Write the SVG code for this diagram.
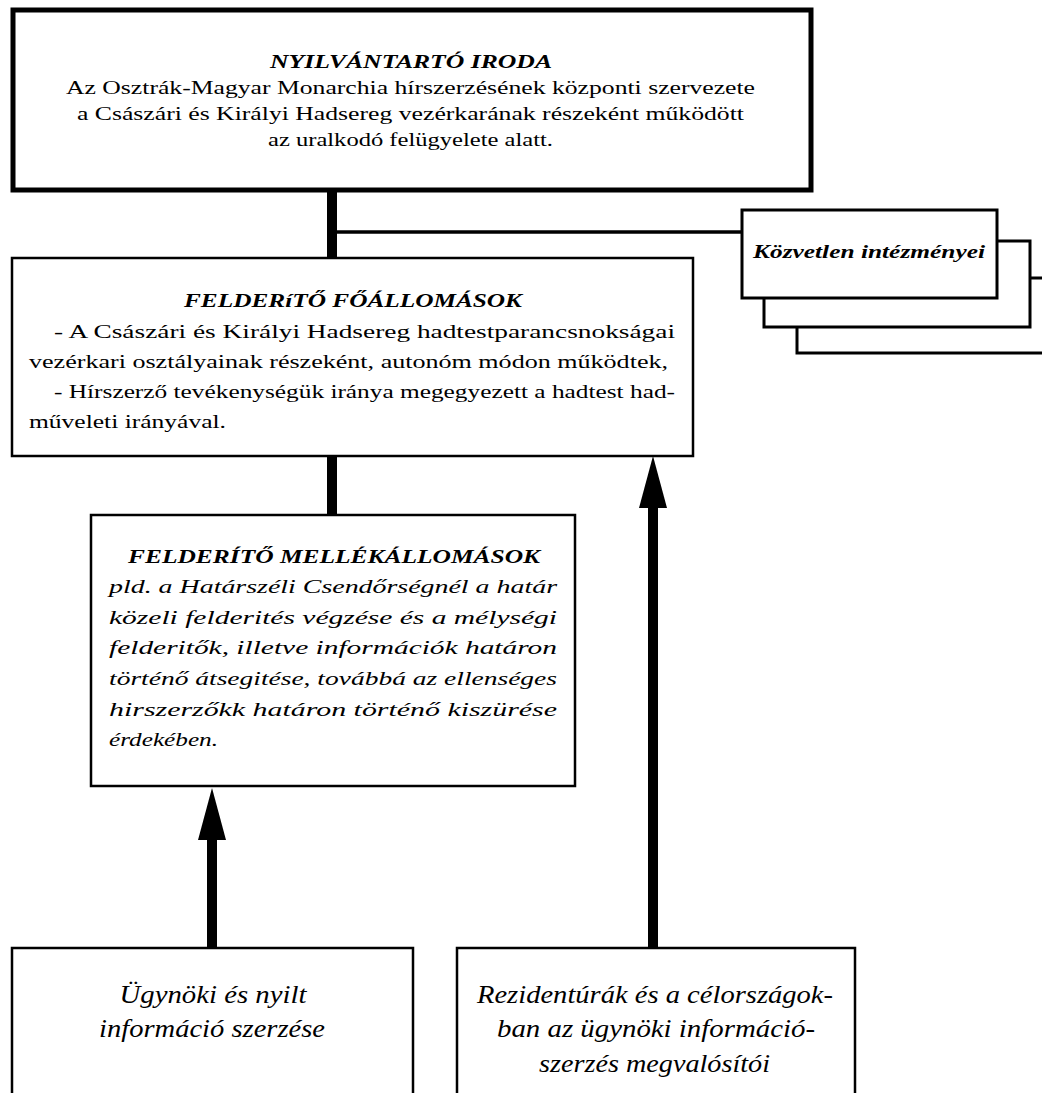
<svg xmlns="http://www.w3.org/2000/svg" width="1042" height="1093" viewBox="0 0 1042 1093">
<style>
.box{fill:#fff;stroke:#000;stroke-width:2.5}
.thick{fill:#fff;stroke:#000;stroke-width:5}
.stack{fill:#fff;stroke:#000;stroke-width:3}
text{font-family:'Liberation Serif','DejaVu Serif','Times New Roman',serif;fill:#000}
.title{font-style:italic;font-weight:bold;font-size:19px}
.body{font-size:19px}
.it{font-style:italic;font-size:19px}
.big{font-style:italic;font-size:25px}
.conn{stroke:#000;fill:none}
</style>
<defs>
<marker id="arrow" markerUnits="userSpaceOnUse" viewBox="0 0 52 28" markerWidth="52" markerHeight="28" refX="12" refY="14" orient="auto">
<path d="M0,0 L52,14 L0,28 z" fill="#000"/>
</marker>
</defs>
<rect width="1042" height="1093" fill="#fff"/>

<g id="connectors">
<line class="conn" x1="332" y1="190" x2="332" y2="258" stroke-width="10"/>
<line class="conn" x1="332" y1="232" x2="742" y2="232" stroke-width="3.5"/>
<line class="conn" x1="332" y1="456" x2="332" y2="515" stroke-width="10"/>
<line class="conn" x1="212" y1="948" x2="212" y2="828" stroke-width="10" marker-end="url(#arrow)"/>
<line class="conn" x1="653" y1="948" x2="653" y2="496" stroke-width="10" marker-end="url(#arrow)"/>
</g>

<g id="nyilvantarto" font-family="Liberation Serif, serif">
<rect class="thick" x="13" y="10" width="798" height="180"/>
<text class="title" x="411" y="68" text-anchor="middle" textLength="282" lengthAdjust="spacingAndGlyphs">NYILVÁNTARTÓ IRODA</text>
<text class="body" x="410.5" y="94" text-anchor="middle" textLength="689" lengthAdjust="spacingAndGlyphs">Az Osztrák-Magyar Monarchia hírszerzésének központi szervezete</text>
<text class="body" x="410.5" y="120" text-anchor="middle" textLength="667" lengthAdjust="spacingAndGlyphs">a Császári és Királyi Hadsereg vezérkarának részeként működött</text>
<text class="body" x="410.5" y="146" text-anchor="middle" textLength="285" lengthAdjust="spacingAndGlyphs">az uralkodó felügyelete alatt.</text>
</g>

<g id="kozvetlen">
<rect class="stack" x="797" y="278" width="260" height="75"/>
<rect class="stack" x="764" y="241" width="266" height="86"/>
<rect class="stack" x="742" y="210" width="255" height="88"/>
<text class="title" x="753" y="258" textLength="232" lengthAdjust="spacingAndGlyphs">Közvetlen intézményei</text>
</g>

<g id="foallomasok">
<rect class="box" x="12" y="258" width="681" height="198"/>
<text class="title" x="353" y="307" text-anchor="middle" textLength="338" lengthAdjust="spacingAndGlyphs">FELDERíTŐ FŐÁLLOMÁSOK</text>
<text class="body" x="54" y="338" textLength="621" lengthAdjust="spacingAndGlyphs">- A Császári és Királyi Hadsereg hadtestparancsnokságai</text>
<text class="body" x="29" y="368" textLength="639" lengthAdjust="spacingAndGlyphs">vezérkari  osztályainak részeként, autonóm módon működtek,</text>
<text class="body" x="54" y="398" textLength="621" lengthAdjust="spacingAndGlyphs">- Hírszerző tevékenységük iránya megegyezett a hadtest had-</text>
<text class="body" x="29" y="428" textLength="197" lengthAdjust="spacingAndGlyphs">műveleti irányával.</text>
</g>

<g id="mellekallomasok">
<rect class="box" x="91" y="515" width="484" height="271"/>
<text class="title" x="334" y="563" text-anchor="middle" textLength="412" lengthAdjust="spacingAndGlyphs">FELDERÍTŐ MELLÉKÁLLOMÁSOK</text>
<text class="it" x="109" y="593" textLength="448" lengthAdjust="spacingAndGlyphs">pld. a Határszéli Csendőrségnél a határ</text>
<text class="it" x="109" y="624" textLength="448" lengthAdjust="spacingAndGlyphs">közeli felderités végzése és a mélységi</text>
<text class="it" x="109" y="654" textLength="448" lengthAdjust="spacingAndGlyphs">felderitők, illetve információk határon</text>
<text class="it" x="109" y="685" textLength="448" lengthAdjust="spacingAndGlyphs">történő átsegitése, továbbá az ellenséges</text>
<text class="it" x="109" y="716" textLength="448" lengthAdjust="spacingAndGlyphs">hirszerzőkk határon történő kiszürése</text>
<text class="it" x="109" y="746" textLength="109" lengthAdjust="spacingAndGlyphs">érdekében.</text>
</g>

<g id="ugynoki">
<rect class="box" x="12" y="948" width="401" height="160"/>
<text class="big" x="213" y="1003" text-anchor="middle" textLength="187" lengthAdjust="spacingAndGlyphs">Ügynöki és nyilt</text>
<text class="big" x="212" y="1037" text-anchor="middle" textLength="226" lengthAdjust="spacingAndGlyphs">információ szerzése</text>
</g>

<g id="rezidenturak">
<rect class="box" x="457" y="948" width="398" height="160"/>
<text class="big" x="655" y="1003" text-anchor="middle" textLength="356" lengthAdjust="spacingAndGlyphs">Rezidentúrák és a célországok-</text>
<text class="big" x="656" y="1037" text-anchor="middle" textLength="318" lengthAdjust="spacingAndGlyphs">ban az ügynöki információ-</text>
<text class="big" x="654.5" y="1072" text-anchor="middle" textLength="231" lengthAdjust="spacingAndGlyphs">szerzés megvalósítói</text>
</g>
</svg>
